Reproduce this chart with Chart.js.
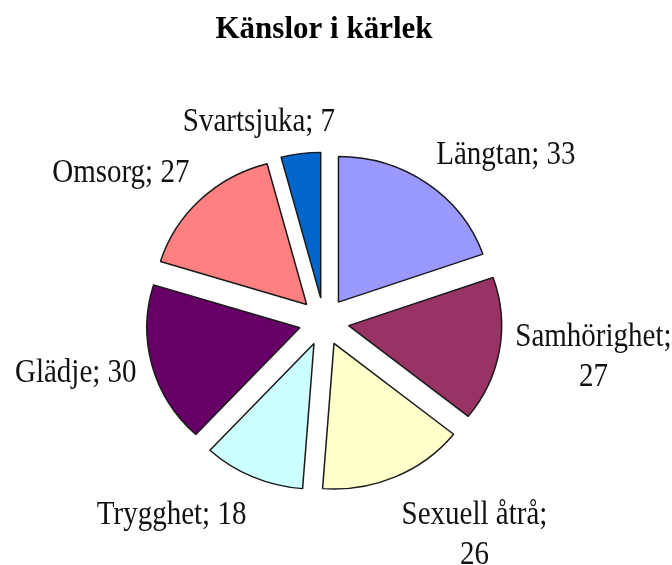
<!doctype html>
<html lang="sv">
<head>
<meta charset="utf-8">
<title>Känslor i kärlek</title>
<script src="https://cdn.jsdelivr.net/npm/chart.js"></script>
<style>
  html, body { margin: 0; padding: 0; background: #fff; }
  #wrap { width: 672px; height: 565px; }
</style>
</head>
<body>
<div id="wrap"><canvas id="pieChart"></canvas></div>
<script>
// data
const categories = ['Längtan', 'Samhörighet', 'Sexuell åtrå', 'Trygghet', 'Glädje', 'Omsorg', 'Svartsjuka'];
const values = [33, 27, 26, 18, 30, 27, 7];
const sliceColors = ['#9999ff', '#993366', '#ffffcc', '#ccffff', '#660066', '#ff8080', '#0066cc'];
const chartTitle = 'Känslor i kärlek';

const explode = 25;        // how far each slice is pulled out
const squash = 0.952;      // the pie is a bit flatter than round
const labelFont = '29px "Liberation Serif", "Times New Roman", serif';
const labelStretch = 1.15; // labels are drawn a little tall
const labelDist = 194;
const lineGap = 40;
const wrapWidth = 165;

function wrapText(ctx, text, maxW) {
    const words = text.split(' ');
    const lines = [];
    let cur = '';
    words.forEach(w => {
        const test = cur ? cur + ' ' + w : w;
        if (cur && ctx.measureText(test).width > maxW) {
            lines.push(cur);
            cur = w;
        } else {
            cur = test;
        }
    });
    if (cur) lines.push(cur);
    return lines;
}

const pieExtras = {
    id: 'pieExtras',
    beforeDatasetsDraw(chart) {
        const {ctx, chartArea} = chart;
        const cx = (chartArea.left + chartArea.right) / 2;
        const cy = (chartArea.top + chartArea.bottom) / 2;
        // pull the slices out, put them back after drawing
        chart.getDatasetMeta(0).data.forEach(arc => {
            const mid = (arc.startAngle + arc.endAngle) / 2;
            arc.x += Math.cos(mid) * explode;
            arc.y += Math.sin(mid) * explode;
        });
        ctx.save();
        ctx.translate(cx, cy);
        ctx.scale(1, squash);
        ctx.translate(-cx, -cy);
    },
    afterDatasetsDraw(chart) {
        const {ctx} = chart;
        ctx.restore();
        const arcs = chart.getDatasetMeta(0).data;
        arcs.forEach(arc => {
            const mid = (arc.startAngle + arc.endAngle) / 2;
            arc.x -= Math.cos(mid) * explode;
            arc.y -= Math.sin(mid) * explode;
        });

        // outside labels "name; value"
        ctx.save();
        ctx.font = labelFont;
        ctx.fillStyle = '#111';
        ctx.textAlign = 'center';
        ctx.textBaseline = 'alphabetic';
        arcs.forEach((arc, i) => {
            const mid = (arc.startAngle + arc.endAngle) / 2;
            const dx = Math.cos(mid), dy = Math.sin(mid);
            const ax = arc.x + dx * labelDist;
            const ay = arc.y + dy * labelDist * squash;
            const lines = wrapText(ctx, categories[i] + '; ' + values[i], wrapWidth);
            const w = Math.max(...lines.map(l => ctx.measureText(l).width));
            const h = lines.length * lineGap;
            const side = Math.max(-1, Math.min(1, dx * 4));
            const bx = ax + side * w / 2;
            const top = dy < -0.3 ? ay - h : (dy > 0.3 ? ay : ay - h / 2);
            lines.forEach((line, k) => {
                ctx.save();
                ctx.translate(bx, top + 33 + k * lineGap);
                ctx.scale(1, labelStretch);
                ctx.fillText(line, 0, 0);
                ctx.restore();
            });
        });
        ctx.restore();
    }
};

const ctx = document.getElementById('pieChart').getContext('2d');
new Chart(ctx, {
    type: 'pie',
    data: {
        labels: categories,
        datasets: [{
            data: values,
            backgroundColor: sliceColors,
            borderColor: '#1a1a1a',
            borderWidth: 1.5
        }]
    },
    options: {
        responsive: true,
        maintainAspectRatio: false,
        animation: false,
        events: [],
        radius: 153,
        layout: { padding: { left: 0, right: 24, top: 0, bottom: 0 } },
        plugins: {
            legend: { display: false },
            tooltip: { enabled: false },
            title: {
                display: true,
                text: chartTitle,
                color: '#000',
                font: { family: '"Liberation Serif", serif', size: 31, weight: 'bold' },
                padding: { top: 11, bottom: 30 }
            }
        }
    },
    plugins: [pieExtras]
});
</script>
</body>
</html>
